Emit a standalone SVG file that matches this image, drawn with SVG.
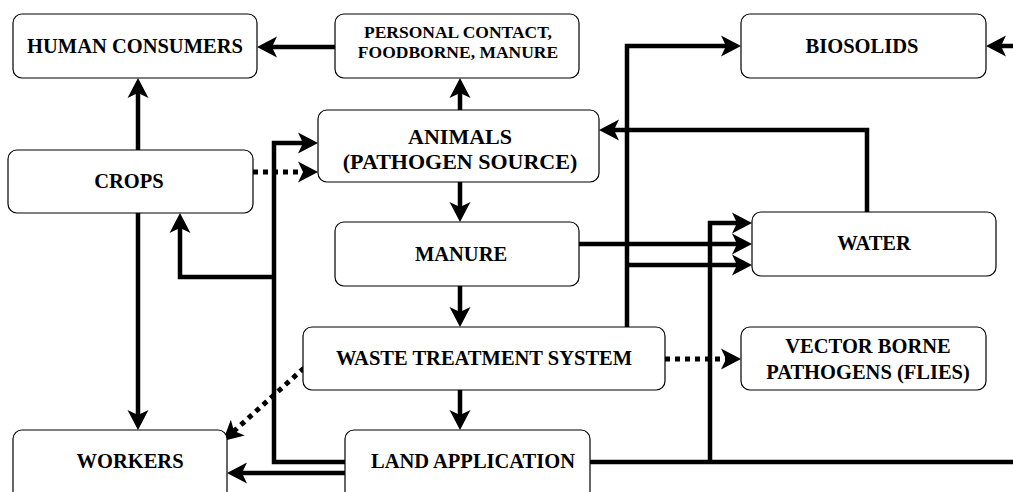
<svg xmlns="http://www.w3.org/2000/svg" width="1013" height="492" viewBox="0 0 1013 492">
<style>
.box{fill:#fff;stroke:#000;stroke-width:1.2}
.t{font-family:"Liberation Serif","Times New Roman",serif;font-weight:bold;font-size:20.5px;text-anchor:middle;fill:#000}
.s{font-size:17.5px}
.b{font-size:22px}
.c{fill:none;stroke:#000;stroke-width:4.5;stroke-linejoin:miter}
.a{marker-end:url(#arr)}
.d{fill:none;stroke:#000;stroke-width:5;stroke-dasharray:5 5}
</style>
<defs>
<marker id="arr" markerUnits="userSpaceOnUse" markerWidth="24" markerHeight="24" viewBox="-12 -12 24 24" refX="0" refY="0" orient="auto">
<path d="M10,0 L-10,-10.5 L-5,0 L-10,10.5 Z" fill="#000"/>
</marker>
</defs>
<rect width="1013" height="492" fill="#fff"/>
<g id="connectors">
<path class="c a" d="M335,47 H267"/>
<path class="c a" d="M460,110 V88"/>
<path class="c a" d="M138,150 V88"/>
<path class="c a" d="M138,213 V420"/>
<path class="c a" d="M345,462 H274 V143 H308"/>
<path class="c a" d="M274,277 H180 V223"/>
<path class="c a" d="M345,473 H237"/>
<path class="d a" d="M253,172 H308"/>
<path class="c a" d="M460,182 V212"/>
<path class="c a" d="M460,286 V317"/>
<path class="c a" d="M460,390 V420"/>
<path class="d a" d="M665,359 H731"/>
<path class="d a" d="M304,368 L230.4,434.3"/>
<path class="c a" d="M579,244 H742"/>
<path class="c a" d="M627,327 V46 H731"/>
<path class="c a" d="M627,265 H742"/>
<path class="c a" d="M867,212 V130 H609"/>
<path class="c" d="M590,462 H1013"/>
<path class="c a" d="M710,462 V223 H742"/>
<path class="c a" d="M1013,46 H996"/>
</g>
<g id="human-consumers"><rect class="box" x="13" y="14" width="244" height="64" rx="9"/><text class="t" x="135" y="53">HUMAN CONSUMERS</text></g>
<g id="personal-contact"><rect class="box" x="335" y="14" width="244" height="64" rx="9"/><text class="t s" x="458" y="38">PERSONAL CONTACT,</text><text class="t s" x="458" y="58">FOODBORNE, MANURE</text></g>
<g id="biosolids"><rect class="box" x="741" y="14" width="245" height="64" rx="9"/><text class="t" x="862" y="53">BIOSOLIDS</text></g>
<g id="animals"><rect class="box" x="318" y="110" width="281" height="72" rx="9"/><text class="t b" x="460" y="144">ANIMALS</text><text class="t b" x="460" y="169">(PATHOGEN SOURCE)</text></g>
<g id="crops"><rect class="box" x="8" y="150" width="245" height="63" rx="9"/><text class="t" x="129" y="188">CROPS</text></g>
<g id="manure"><rect class="box" x="335" y="222" width="244" height="64" rx="9"/><text class="t" x="461" y="261">MANURE</text></g>
<g id="water"><rect class="box" x="752" y="212" width="244" height="64" rx="9"/><text class="t" x="874" y="250">WATER</text></g>
<g id="waste-treatment"><rect class="box" x="303" y="327" width="362" height="63" rx="9"/><text class="t" x="484" y="365">WASTE TREATMENT SYSTEM</text></g>
<g id="vector-borne"><rect class="box" x="741" y="327" width="245" height="63" rx="9"/><text class="t" x="868" y="353">VECTOR BORNE</text><text class="t" x="868" y="379">PATHOGENS (FLIES)</text></g>
<g id="land-application"><rect class="box" x="345" y="430" width="245" height="70" rx="9"/><text class="t" x="473" y="468">LAND APPLICATION</text></g>
<g id="workers"><rect class="box" x="13" y="430" width="214" height="70" rx="9"/><text class="t" x="130" y="468">WORKERS</text></g>
</svg>
